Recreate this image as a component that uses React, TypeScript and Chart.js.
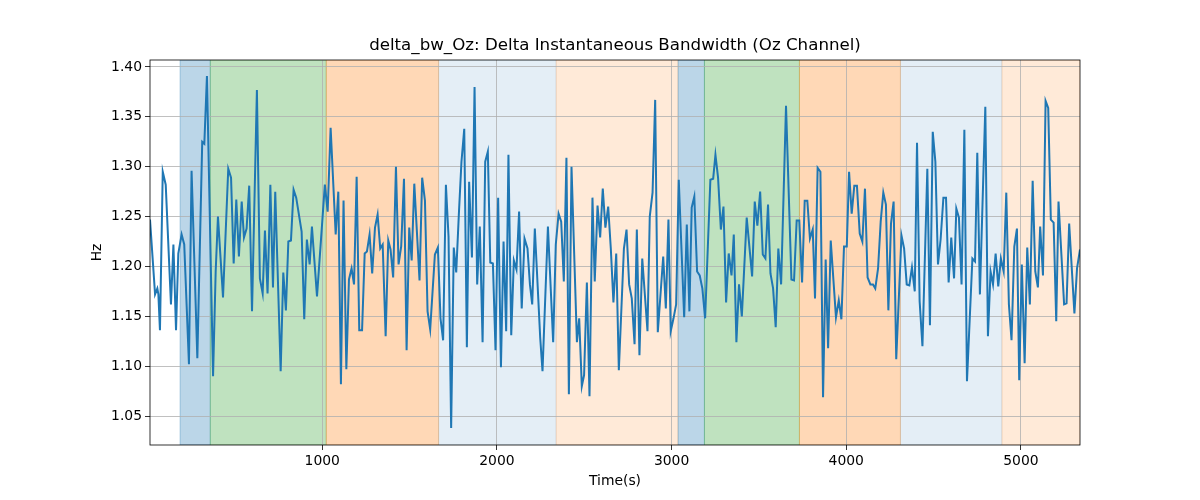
import React, { useEffect, useRef } from "react";
import { Chart, registerables } from "chart.js";

Chart.register(...registerables);

const TITLE = "delta_bw_Oz: Delta Instantaneous Bandwidth (Oz Channel)";
const X_LABEL = "Time(s)";
const Y_LABEL = "Hz";

const X_MIN = 14;
const X_MAX = 5338;
const Y_MIN = 1.021;
const Y_MAX = 1.407;

const X_TICKS = [1000, 2000, 3000, 4000, 5000];
const Y_TICKS = [1.05, 1.1, 1.15, 1.2, 1.25, 1.3, 1.35, 1.4];

const SPAN_STARTS = [186, 359, 1023, 1666, 2339, 3037, 3188, 3732, 4310, 4891];
const SPAN_ENDS = [359, 1023, 1666, 2339, 3037, 3188, 3732, 4310, 4891, 5338];
const SPAN_COLORS = [
  "rgba(31,119,180,0.3)",
  "rgba(44,160,44,0.3)",
  "rgba(255,127,14,0.3)",
  "rgba(31,119,180,0.12)",
  "rgba(255,127,14,0.16)",
  "rgba(31,119,180,0.3)",
  "rgba(44,160,44,0.3)",
  "rgba(255,127,14,0.3)",
  "rgba(31,119,180,0.12)",
  "rgba(255,127,14,0.16)",
];

const TIMES = [
  14, 43, 56, 62, 71, 87, 104, 134, 148, 163, 176, 195, 210, 237, 252, 285, 313, 325, 340, 375,
  390, 403, 432, 462, 478, 493, 508, 523, 539, 552, 567, 582, 598, 626, 643, 659, 672, 687, 703, 718,
  731, 762, 777, 792, 806, 821, 836, 851, 882, 897, 912, 928, 941, 970, 1015, 1031, 1048, 1077, 1092, 1107,
  1122, 1138, 1153, 1168, 1182, 1197, 1212, 1228, 1243, 1256, 1271, 1286, 1302, 1317, 1332, 1346, 1363, 1378, 1391, 1406,
  1422, 1437, 1452, 1468, 1483, 1498, 1512, 1527, 1557, 1572, 1588, 1603, 1618, 1645, 1662, 1677, 1692, 1708, 1723, 1738,
  1753, 1767, 1782, 1797, 1813, 1828, 1841, 1857, 1872, 1887, 1902, 1918, 1933, 1948, 1962, 1977, 1992, 2007, 2023, 2038,
  2053, 2066, 2082, 2097, 2112, 2127, 2142, 2158, 2175, 2189, 2202, 2217, 2248, 2261, 2292, 2322, 2337, 2353, 2368, 2383,
  2398, 2412, 2427, 2458, 2471, 2486, 2499, 2515, 2530, 2547, 2560, 2576, 2591, 2606, 2621, 2637, 2652, 2667, 2683, 2698,
  2727, 2742, 2757, 2772, 2788, 2801, 2816, 2832, 2862, 2875, 2891, 2906, 2921, 2952, 2967, 2982, 2995, 3011, 3026, 3041,
  3072, 3087, 3102, 3115, 3130, 3146, 3161, 3176, 3192, 3222, 3238, 3251, 3266, 3282, 3297, 3312, 3327, 3343, 3356, 3371,
  3386, 3402, 3430, 3461, 3476, 3491, 3507, 3522, 3537, 3552, 3566, 3581, 3596, 3611, 3627, 3655, 3686, 3701, 3716, 3731,
  3747, 3762, 3777, 3792, 3808, 3821, 3836, 3852, 3867, 3882, 3896, 3911, 3941, 3957, 3972, 3987, 4003, 4016, 4031, 4046,
  4061, 4077, 4092, 4107, 4122, 4138, 4153, 4166, 4182, 4197, 4212, 4227, 4241, 4256, 4271, 4286, 4316, 4331, 4346, 4361,
  4376, 4392, 4405, 4420, 4436, 4464, 4479, 4495, 4510, 4525, 4540, 4556, 4571, 4586, 4601, 4617, 4630, 4645, 4660, 4676,
  4691, 4722, 4737, 4750, 4765, 4796, 4811, 4826, 4840, 4855, 4870, 4885, 4901, 4916, 4931, 4946, 4962, 4977, 4990, 5005,
  5021, 5036, 5051, 5067, 5082, 5097, 5110, 5126, 5141, 5156, 5171, 5187, 5202, 5215, 5247, 5261, 5276, 5306, 5321, 5338,
];

const VALUES = [
  1.247, 1.172, 1.178, 1.172, 1.136, 1.295, 1.282, 1.162, 1.222, 1.136, 1.213, 1.232, 1.222, 1.102, 1.296, 1.108, 1.325, 1.323, 1.391, 1.09,
  1.195, 1.25, 1.169, 1.298, 1.289, 1.203, 1.267, 1.21, 1.265, 1.229, 1.238, 1.281, 1.155, 1.377, 1.188, 1.173, 1.236, 1.173, 1.282, 1.179,
  1.275, 1.095, 1.194, 1.156, 1.225, 1.226, 1.277, 1.269, 1.235, 1.147, 1.227, 1.202, 1.24, 1.17, 1.282, 1.255, 1.339, 1.232, 1.275, 1.082,
  1.266, 1.097, 1.187, 1.198, 1.182, 1.29, 1.136, 1.136, 1.213, 1.215, 1.232, 1.193, 1.239, 1.252, 1.218, 1.222, 1.13, 1.226, 1.217, 1.189,
  1.3, 1.202, 1.22, 1.288, 1.116, 1.239, 1.206, 1.283, 1.186, 1.289, 1.266, 1.155, 1.137, 1.212, 1.219, 1.148, 1.126, 1.282, 1.23, 1.038,
  1.219, 1.194, 1.252, 1.305, 1.338, 1.119, 1.285, 1.209, 1.38, 1.182, 1.24, 1.124, 1.305, 1.315, 1.204, 1.203, 1.116, 1.269, 1.099, 1.225,
  1.135, 1.312, 1.131, 1.206, 1.197, 1.255, 1.158, 1.228, 1.218, 1.182, 1.162, 1.238, 1.128, 1.095, 1.24, 1.124, 1.222, 1.253, 1.245, 1.185,
  1.309, 1.072, 1.3, 1.124, 1.148, 1.08, 1.091, 1.184, 1.07, 1.269, 1.185, 1.261, 1.229, 1.278, 1.239, 1.26, 1.218, 1.164, 1.213, 1.096,
  1.218, 1.237, 1.182, 1.168, 1.122, 1.237, 1.111, 1.208, 1.135, 1.25, 1.274, 1.367, 1.134, 1.21, 1.158, 1.247, 1.135, 1.148, 1.162, 1.287,
  1.149, 1.242, 1.155, 1.259, 1.27, 1.195, 1.191, 1.178, 1.148, 1.287, 1.288, 1.312, 1.289, 1.237, 1.26, 1.164, 1.213, 1.191, 1.232, 1.124,
  1.182, 1.15, 1.249, 1.19, 1.265, 1.241, 1.275, 1.212, 1.208, 1.262, 1.193, 1.178, 1.139, 1.218, 1.182, 1.361, 1.187, 1.186, 1.246, 1.246,
  1.184, 1.266, 1.266, 1.228, 1.237, 1.168, 1.299, 1.295, 1.069, 1.207, 1.118, 1.226, 1.149, 1.166, 1.147, 1.22, 1.22, 1.295, 1.253, 1.281,
  1.281, 1.233, 1.225, 1.278, 1.189, 1.182, 1.182, 1.178, 1.198, 1.245, 1.274, 1.262, 1.156, 1.243, 1.265, 1.107, 1.231, 1.218, 1.182, 1.181,
  1.199, 1.175, 1.324, 1.165, 1.12, 1.298, 1.141, 1.335, 1.305, 1.202, 1.227, 1.269, 1.269, 1.184, 1.229, 1.188, 1.258, 1.249, 1.182, 1.337,
  1.085, 1.208, 1.205, 1.314, 1.172, 1.36, 1.13, 1.195, 1.182, 1.213, 1.18, 1.208, 1.195, 1.274, 1.162, 1.126, 1.22, 1.238, 1.086, 1.202,
  1.103, 1.219, 1.162, 1.286, 1.195, 1.179, 1.24, 1.191, 1.366, 1.359, 1.247, 1.244, 1.145, 1.265, 1.162, 1.163, 1.243, 1.153, 1.198, 1.217,
];

const FONT = "'DejaVu Sans', sans-serif";

const spanPlugin = {
  id: "spans",
  beforeDraw(chart: any) {
    const { ctx, chartArea, scales } = chart;
    const xs = scales.x;
    ctx.save();
    ctx.beginPath();
    ctx.rect(chartArea.left, chartArea.top, chartArea.right - chartArea.left, chartArea.bottom - chartArea.top);
    ctx.clip();
    for (let i = 0; i < SPAN_STARTS.length; i++) {
      const x0 = xs.getPixelForValue(SPAN_STARTS[i]);
      const x1 = xs.getPixelForValue(SPAN_ENDS[i]);
      ctx.fillStyle = SPAN_COLORS[i];
      ctx.fillRect(x0, chartArea.top, x1 - x0, chartArea.bottom - chartArea.top);
      ctx.strokeStyle = SPAN_COLORS[i];
      ctx.lineWidth = 1;
      ctx.strokeRect(x0, chartArea.top, x1 - x0, chartArea.bottom - chartArea.top);
    }
    ctx.restore();
  },
  afterDraw(chart: any) {
    const { ctx, chartArea } = chart;
    ctx.save();
    ctx.strokeStyle = "#000";
    ctx.lineWidth = 0.8;
    ctx.strokeRect(chartArea.left, chartArea.top, chartArea.right - chartArea.left, chartArea.bottom - chartArea.top);
    ctx.fillStyle = "#000";
    ctx.font = "16.67px " + FONT;
    ctx.textAlign = "center";
    ctx.textBaseline = "middle";
    ctx.fillText(TITLE, (chartArea.left + chartArea.right) / 2, 46);
    ctx.restore();
  },
};

export default function App() {
  const ref = useRef<HTMLCanvasElement>(null);
  useEffect(() => {
    if (!ref.current) return;
    const data = TIMES.map((t, i) => ({ x: t, y: VALUES[i] }));
    const chart = new Chart(ref.current, {
      type: "line",
      data: {
        datasets: [
          {
            data,
            borderColor: "#1f77b4",
            borderWidth: 2,
            pointRadius: 0,
            tension: 0,
            fill: false,
          },
        ],
      },
      options: {
        animation: false,
        responsive: false,
        devicePixelRatio: 1,
        layout: { padding: { left: 0, top: 60, right: 120, bottom: 0 } },
        plugins: {
          legend: { display: false },
          tooltip: { enabled: false },
          title: { display: false },
        },
        scales: {
          x: {
            type: "linear",
            min: X_MIN,
            max: X_MAX,
            afterBuildTicks: (s: any) => {
              s.ticks = X_TICKS.map((v) => ({ value: v }));
            },
            afterFit: (s: any) => {
              s.height = 55;
            },
            ticks: {
              color: "#000",
              font: { family: FONT, size: 13.9 },
              padding: 3,
              maxRotation: 0,
              callback: (v: any) => String(v),
            },
            grid: {
              color: "#b0b0b0",
              lineWidth: 0.8,
              tickColor: "#000",
              tickLength: 5,
              tickWidth: 0.8,
            },
            border: { display: false },
            title: {
              display: true,
              text: X_LABEL,
              color: "#000",
              font: { family: FONT, size: 13.9 },
              padding: { top: 0, bottom: 10 },
            },
          },
          y: {
            type: "linear",
            min: Y_MIN,
            max: Y_MAX,
            afterBuildTicks: (s: any) => {
              s.ticks = Y_TICKS.map((v) => ({ value: v }));
            },
            afterFit: (s: any) => {
              s.width = 150;
            },
            ticks: {
              color: "#000",
              font: { family: FONT, size: 13.9 },
              padding: 3,
              callback: (v: any) => Number(v).toFixed(2),
            },
            grid: {
              color: "#b0b0b0",
              lineWidth: 0.8,
              tickColor: "#000",
              tickLength: 5,
              tickWidth: 0.8,
            },
            border: { display: false },
            title: {
              display: true,
              text: Y_LABEL,
              color: "#000",
              font: { family: FONT, size: 13.9 },
              padding: { top: 89, bottom: 0 },
            },
          },
        },
      },
      plugins: [spanPlugin],
    });
    return () => chart.destroy();
  }, []);
  return (
    <div style={{ position: "absolute", left: 0, top: 0, width: 1200, height: 500, background: "#fff" }}>
      <canvas ref={ref} width={1200} height={500} />
    </div>
  );
}
